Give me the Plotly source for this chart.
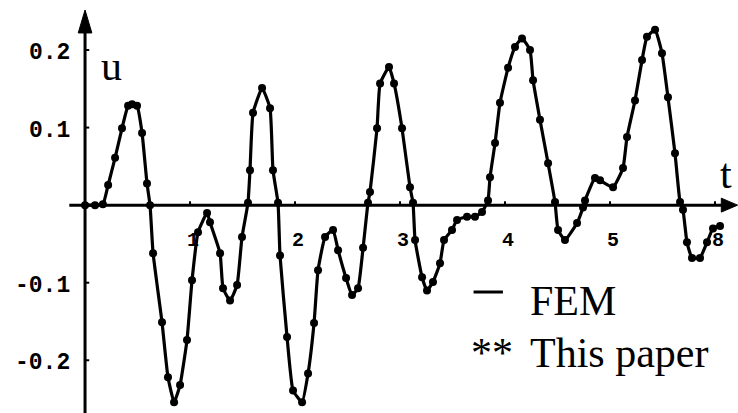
import plotly.graph_objects as go

# Time (t) and response (u)
t = [0.0, 0.095, 0.17, 0.22, 0.286, 0.352, 0.41, 0.448, 0.495, 0.543, 0.59, 0.619,
     0.648, 0.733, 0.79, 0.848, 0.905, 0.971, 1.019, 1.076, 1.162, 1.19, 1.286, 1.314,
     1.381, 1.448, 1.495, 1.552, 1.571, 1.6, 1.686, 1.762, 1.79, 1.838, 1.857, 1.924,
     1.981, 2.067, 2.124, 2.181, 2.219, 2.286, 2.362, 2.41, 2.486, 2.543, 2.6, 2.648,
     2.695, 2.714, 2.781, 2.81, 2.895, 2.943, 3.019, 3.095, 3.124, 3.143, 3.21, 3.257,
     3.314, 3.381, 3.419, 3.495, 3.543, 3.638, 3.714, 3.781, 3.838, 3.857, 3.905, 3.952,
     4.029, 4.095, 4.162, 4.238, 4.267, 4.333, 4.41, 4.476, 4.505, 4.571, 4.686, 4.743,
     4.762, 4.857, 4.905, 5.029, 5.124, 5.162, 5.238, 5.305, 5.352, 5.429, 5.495, 5.552,
     5.619, 5.667, 5.695, 5.733, 5.781, 5.857, 5.924, 5.981, 6.048]
u = [0.0, 0.0, 0.001, 0.026, 0.061, 0.099, 0.128, 0.130, 0.128, 0.093, 0.028, 0.0,
     -0.062, -0.151, -0.222, -0.254, -0.232, -0.174, -0.097, -0.035, -0.010, -0.022, -0.062, -0.107,
     -0.123, -0.103, -0.041, 0.003, 0.045, 0.119, 0.151, 0.125, 0.045, 0.003, -0.065, -0.170,
     -0.239, -0.254, -0.217, -0.152, -0.084, -0.041, -0.032, -0.058, -0.094, -0.116, -0.107, -0.055,
     0.003, 0.017, 0.099, 0.157, 0.178, 0.157, 0.099, 0.023, 0.003, -0.045, -0.093, -0.110,
     -0.099, -0.075, -0.045, -0.032, -0.019, -0.015, -0.015, -0.009, 0.006, 0.036, 0.080, 0.132,
     0.177, 0.204, 0.215, 0.200, 0.161, 0.110, 0.054, 0.004, -0.032, -0.045, -0.023, -0.003,
     0.006, 0.035, 0.032, 0.023, 0.048, 0.088, 0.135, 0.187, 0.217, 0.226, 0.196, 0.139,
     0.067, 0.004, -0.006, -0.048, -0.068, -0.068, -0.048, -0.030, -0.027]

x_ticks = [1, 2, 3, 4, 5, 6]
x_tick_labels = ["1", "2", "3", "4", "5", "8"]
y_ticks = [0.2, 0.1, -0.1, -0.2]
y_tick_labels = ["0.2", "0.1", "-0.1", "-0.2"]

XR = [-0.81, 6.219]
YR = [-0.268, 0.2645]

fig = go.Figure()
fig.add_trace(go.Scatter(
    x=t, y=u, mode="lines+markers",
    line=dict(color="black", width=3.2, shape="spline", smoothing=0.4),
    marker=dict(color="black", size=8),
    showlegend=False, hoverinfo="skip"))

shapes = []
# y axis
shapes.append(dict(type="line", x0=0, x1=0, y0=YR[0], y1=0.225, xref="x", yref="y",
                   line=dict(color="black", width=3)))
shapes.append(dict(type="path", xref="x", yref="y",
                   path="M -0.065 0.222 L 0 0.2516 L 0.065 0.222 Z",
                   fillcolor="black", line=dict(color="black", width=1)))
# x axis
shapes.append(dict(type="line", x0=-0.15, x1=6.1, y0=0, y1=0, xref="x", yref="y",
                   line=dict(color="black", width=3)))
shapes.append(dict(type="path", xref="x", yref="y",
                   path="M 6.06 0.009 L 6.215 0 L 6.06 -0.009 Z",
                   fillcolor="black", line=dict(color="black", width=1)))
# tick marks
for xv in x_ticks:
    shapes.append(dict(type="line", x0=xv, x1=xv, y0=0, y1=0.005, xref="x", yref="y",
                       line=dict(color="black", width=2)))
for yv in y_ticks:
    shapes.append(dict(type="line", x0=0, x1=0.04, y0=yv, y1=yv, xref="x", yref="y",
                       line=dict(color="black", width=2)))

annotations = []
for xv, lab in zip(x_ticks, x_tick_labels):
    annotations.append(dict(x=xv + 0.03, y=-0.045, xref="x", yref="y", text="<b>%s</b>" % lab,
                            showarrow=False, font=dict(family="Liberation Mono", size=20, color="black")))
for yv, lab in zip(y_ticks, y_tick_labels):
    annotations.append(dict(x=-0.12, y=yv - 0.004, xref="x", yref="y", text="<b>%s</b>" % lab,
                            xanchor="right", showarrow=False,
                            font=dict(family="Liberation Mono", size=23, color="black")))
annotations.append(dict(x=0.25, y=0.18, xref="x", yref="y", text="u", showarrow=False,
                        font=dict(family="Liberation Serif", size=42, color="black")))
annotations.append(dict(x=6.1, y=0.04, xref="x", yref="y", text="t", showarrow=False,
                        font=dict(family="Liberation Serif", size=42, color="black")))
# legend
shapes.append(dict(type="line", x0=3.7, x1=3.98, y0=-0.112, y1=-0.112, xref="x", yref="y",
                   line=dict(color="black", width=3)))
annotations.append(dict(x=4.22, y=-0.123, xref="x", yref="y", text="FEM", xanchor="left",
                        showarrow=False, font=dict(family="Liberation Serif", size=42, color="black")))
annotations.append(dict(x=3.66, y=-0.19, xref="x", yref="y", text="**", xanchor="left",
                        showarrow=False, font=dict(family="Liberation Serif", size=42, color="black")))
annotations.append(dict(x=4.22, y=-0.19, xref="x", yref="y", text="This paper", xanchor="left",
                        showarrow=False, font=dict(family="Liberation Serif", size=42, color="black")))

fig.update_layout(
    width=738, height=413, autosize=False,
    margin=dict(l=0, r=0, t=0, b=0),
    paper_bgcolor="white", plot_bgcolor="white",
    xaxis=dict(range=XR, visible=False, fixedrange=True),
    yaxis=dict(range=YR, visible=False, fixedrange=True),
    shapes=shapes, annotations=annotations,
)
fig.write_html("out.html", config={"displayModeBar": False},
               post_script="document.body.style.margin='0px';document.body.style.overflow='hidden';")
